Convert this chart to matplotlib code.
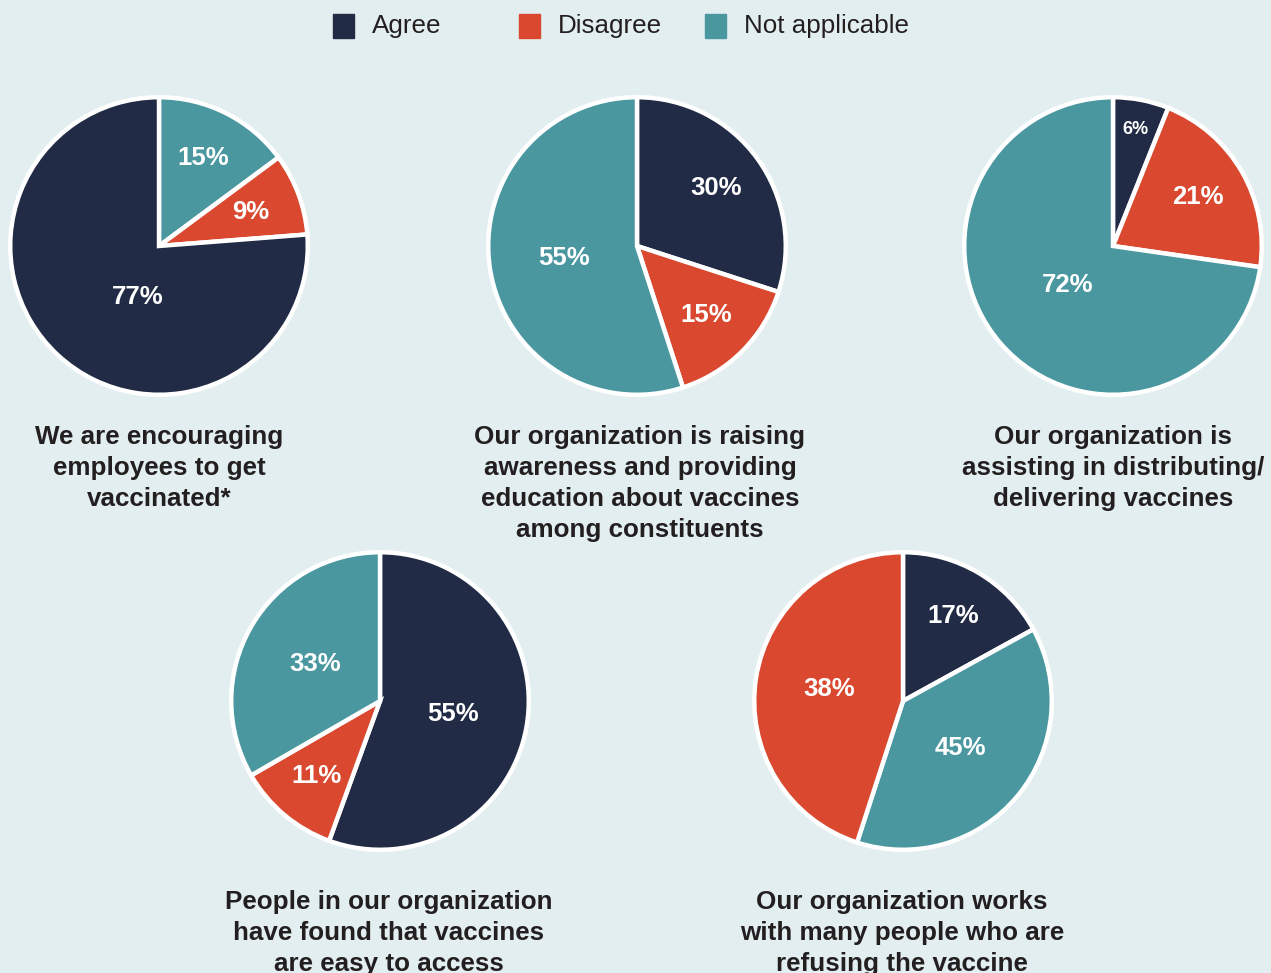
import numpy as np
import matplotlib.pyplot as plt
from matplotlib.patches import Rectangle

plt.rcParams['font.family'] = ['Liberation Sans', 'DejaVu Sans']

BG = '#e3eef0'
COLORS = {'Agree': '#222b45', 'Disagree': '#d9482f', 'Not applicable': '#4a97a0'}
TEXT = '#231f20'

legend_labels = ['Agree', 'Disagree', 'Not applicable']

# each pie: slices clockwise from 12 o'clock
pie_titles = [
    'We are encouraging\nemployees to get\nvaccinated*',
    'Our organization is raising\nawareness and providing\neducation about vaccines\namong constituents',
    'Our organization is\nassisting in distributing/\ndelivering vaccines',
    'People in our organization\nhave found that vaccines\nare easy to access',
    'Our organization works\nwith many people who are\nrefusing the vaccine',
]
pie_cats = [
    ['Not applicable', 'Disagree', 'Agree'],
    ['Agree', 'Disagree', 'Not applicable'],
    ['Agree', 'Disagree', 'Not applicable'],
    ['Agree', 'Disagree', 'Not applicable'],
    ['Agree', 'Not applicable', 'Disagree'],
]
# printed percentages
pie_labels = [
    [15, 9, 77],
    [30, 15, 55],
    [6, 21, 72],
    [55, 11, 33],
    [17, 45, 38],
]
# wedge sizes as drawn in the source (last pie's teal/red wedges are drawn swapped)
pie_sizes = [
    [15, 9, 77],
    [30, 15, 55],
    [6, 21, 72],
    [55, 11, 33],
    [17, 38, 45],
]

# layout in pixels (figure 1271 x 973)
W, H = 1271, 973
centers = [(159, 246), (637, 246), (1113, 246), (380, 701), (903, 701)]
title_pos = [(159, 425), (640, 425), (1113, 425), (389, 890), (902, 890)]
R = 151

fig = plt.figure(figsize=(W / 100, H / 100), dpi=100, facecolor=BG)

for i in range(5):
    cx, cy = centers[i]
    ax = fig.add_axes([(cx - R) / W, 1 - (cy + R) / H, 2 * R / W, 2 * R / H])
    ax.set_facecolor(BG)
    sizes = pie_sizes[i]
    cols = [COLORS[c] for c in pie_cats[i]]
    wedges, texts = ax.pie(sizes, colors=cols, startangle=90, counterclock=False,
                           radius=1.0,
                           wedgeprops=dict(edgecolor='white', linewidth=3.2))
    for w, s, lab in zip(wedges, sizes, pie_labels[i]):
        ang = np.deg2rad((w.theta1 + w.theta2) / 2)
        if s < 7:
            d, fs = 0.8, 13
        elif s <= 30:
            d, fs = 0.66, 18.5
        elif s < 70:
            d, fs = 0.5, 18.5
        else:
            d, fs = 0.4, 18.5
        tx, ty = d * np.cos(ang), d * np.sin(ang)
        if s == 77:
            tx += 0.13
            ty -= 0.05
        ax.text(tx, ty, f'{lab}%', ha='center', va='center', color='white',
                fontsize=fs, fontweight='bold')
    ax.set_xlim(-1.015, 1.015)
    ax.set_ylim(-1.015, 1.015)
    ax.set_aspect('equal')
    ax.axis('off')

    tx, ty = title_pos[i]
    fig.text(tx / W, 1 - ty / H, pie_titles[i], ha='center', va='top',
             fontsize=18.7, fontweight='bold', color=TEXT, linespacing=1.37)

# legend
for j, lab in enumerate(legend_labels):
    x0 = 333 + 186 * j
    fig.add_artist(Rectangle((x0 / W, 1 - 38 / H), 21 / W, 24 / H,
                             transform=fig.transFigure, color=COLORS[lab]))
    fig.text((x0 + 39) / W, 1 - 26 / H, lab, ha='left', va='center',
             fontsize=18.7, color=TEXT)

fig.savefig('out.png', dpi=100, facecolor=BG)
